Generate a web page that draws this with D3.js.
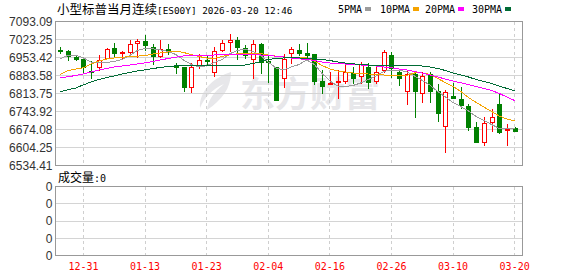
<!DOCTYPE html>
<html>
<head>
<meta charset="utf-8">
<script src="https://cdn.jsdelivr.net/npm/d3@7"></script>
<style>
  body { margin: 0; background: #fff; }
  svg { display: block; }
</style>
</head>
<body>
<div id="chart"></div>
<script>
// trading days shown on the chart
const dates = [
  "12-26", "12-29", "12-30", "12-31", "01-02", "01-05", "01-06", "01-07", "01-08", "01-09",
  "01-12", "01-13", "01-14", "01-15", "01-16", "01-19", "01-20", "01-21", "01-22", "01-23",
  "01-26", "01-27", "01-28", "01-29", "01-30", "02-02", "02-03", "02-04", "02-05", "02-06",
  "02-09", "02-10", "02-11", "02-12", "02-13", "02-16", "02-17", "02-18", "02-19", "02-20",
  "02-23", "02-24", "02-25", "02-26", "02-27", "03-02", "03-03", "03-04", "03-05", "03-06",
  "03-09", "03-10", "03-11", "03-12", "03-13", "03-16", "03-17", "03-18", "03-19", "03-20"
];

const opens = [
  6983, 6980.5, 6957, 6948.5, 6900, 6918.5, 6952, 6991, 6970, 6974,
  7009, 7016.5, 6993.5, 6960, 6987, 6919.5, 6916, 6838, 6925, 6942,
  6896.5, 6983, 7014.5, 7019.5, 6991, 6948.5, 7006.5, 6938, 6916, 6874.5,
  6970, 6983, 6971.5, 6968, 6864, 6851, 6859, 6864, 6892.5, 6883.5,
  6918.5, 6861.5, 6903, 6965, 6896.5, 6822.5, 6890, 6816.5, 6890, 6822.5,
  6689.5, 6803.5, 6793, 6767, 6685.5, 6625, 6702.5, 6774, 6673, 6679
];
const highs = [
  6996, 6983, 6961, 6952, 6939, 6965, 6991, 7009, 6980.5, 7019.5,
  7026, 7039, 7004, 7019.5, 7006.5, 6931, 6918.5, 6931, 6968, 6964,
  6993.5, 7019.5, 7045.5, 7032, 7000, 7019.5, 7010, 6961, 6918.5, 6968,
  6996, 7006.5, 7010.5, 6968, 6903, 6896.5, 6903, 6929, 6916, 6935,
  6931, 6918.5, 6983, 6974, 6905.5, 6903, 6892.5, 6896.5, 6896.5, 6851.5,
  6825.5, 6853.5, 6838, 6773.5, 6702.5, 6722, 6754.5, 6812.5, 6695, 6683
];
const lows = [
  6968, 6939, 6939, 6892.5, 6871, 6900, 6948, 6954.5, 6942, 6957,
  6952, 6980.5, 6925, 6952, 6964, 6890, 6821.5, 6815, 6909.5, 6925,
  6879.5, 6974, 6974, 6942, 6948.5, 6871, 6890, 6853, 6786, 6836,
  6929, 6958, 6948.5, 6845, 6810, 6845, 6790.5, 6851, 6851, 6851,
  6831, 6851, 6894, 6874, 6841, 6770, 6719.5, 6776, 6776, 6704,
  6583.5, 6793, 6754.5, 6670, 6622, 6612, 6663, 6657, 6612, 6668
];
const closes = [
  6978, 6961, 6947, 6916, 6898, 6944.5, 6987, 6970, 6973, 7006.5,
  7016.5, 7000, 6961, 6987, 6978, 6917, 6838, 6918.5, 6944.5, 6938,
  6980.5, 7010.5, 7019.5, 6993.5, 6965, 7004, 6936.5, 6935, 6789, 6948.5,
  6987, 6970, 6962.5, 6864, 6842, 6853, 6864, 6896.5, 6873, 6929,
  6857.5, 6896.5, 6976.5, 6913.5, 6874.5, 6890, 6822.5, 6883.5, 6822.5, 6737.5,
  6819, 6797, 6770, 6683, 6625, 6700, 6724.5, 6663, 6676.5, 6669
];

// moving averages as drawn on the chart
const ma5 = [
  6948.4, 6962.0, 6963.1, 6951.5, 6936.0, 6932.9, 6934.0, 6937.9, 6945.7, 6961.2,
  6980.6, 6988.4, 6987.2, 6983.3, 6976.7, 6965.1, 6943.7, 6926.3, 6916.6, 6921.2,
  6934.0, 6945.7, 6967.8, 6980.6, 6985.6, 6976.7, 6961.2, 6936.0, 6912.7, 6904.9,
  6916.6, 6926.3, 6943.7, 6926.3, 6891.4, 6862.3, 6842.9, 6840.9, 6844.8, 6854.5,
  6868.1, 6881.7, 6899.1, 6904.9, 6904.9, 6897.2, 6881.7, 6864.2, 6846.7, 6821.5,
  6800.2, 6778.8, 6763.3, 6745.9, 6724.5, 6709.0, 6693.5, 6678.0, 6676.0, 6678.0
];
const ma10 = [
  6887.5, 6903.0, 6908.8, 6913.5, 6928.2, 6939.9, 6947.6, 6951.5, 6954.6, 6956.5,
  6958.5, 6961.2, 6967.0, 6970.9, 6974.8, 6978.7, 6972.8, 6965.1, 6957.3, 6951.5,
  6949.6, 6957.3, 6963.9, 6967.8, 6969.0, 6970.9, 6969.0, 6963.1, 6958.5, 6955.4,
  6953.4, 6952.3, 6951.5, 6939.9, 6922.4, 6908.8, 6901.1, 6897.2, 6893.3, 6890.2,
  6889.4, 6887.5, 6885.5, 6883.6, 6881.7, 6883.6, 6893.3, 6893.3, 6887.5, 6872.0,
  6856.4, 6840.9, 6821.5, 6798.2, 6778.8, 6761.4, 6743.9, 6726.5, 6714.8, 6707.8
];
const ma20 = [
  6874.7, 6878.9, 6883.6, 6889.4, 6897.2, 6904.9, 6910.8, 6916.6, 6920.5, 6924.3,
  6928.2, 6932.9, 6937.9, 6943.7, 6949.6, 6954.6, 6959.3, 6961.2, 6961.2, 6962.0,
  6963.1, 6963.9, 6963.9, 6963.9, 6963.9, 6963.9, 6963.1, 6961.2, 6958.5, 6955.4,
  6951.5, 6948.4, 6945.7, 6941.8, 6936.0, 6932.1, 6930.2, 6928.2, 6926.3, 6924.3,
  6922.4, 6920.5, 6916.6, 6913.5, 6908.8, 6904.9, 6899.1, 6893.3, 6885.5, 6877.8,
  6870.0, 6862.3, 6855.3, 6848.7, 6840.9, 6833.2, 6825.4, 6813.8, 6800.2, 6786.6
];
const ma30 = [
  6821.5, 6828.1, 6835.1, 6847.5, 6858.4, 6868.1, 6875.8, 6881.7, 6889.4, 6895.2,
  6901.1, 6905.7, 6910.8, 6914.6, 6918.5, 6921.2, 6922.4, 6923.2, 6923.6, 6924.0,
  6924.3, 6924.3, 6924.3, 6924.3, 6924.3, 6930.2, 6937.9, 6945.7, 6949.6, 6951.5,
  6951.5, 6951.5, 6950.7, 6948.4, 6945.7, 6941.8, 6936.0, 6932.1, 6929.0, 6926.3,
  6924.3, 6924.3, 6924.3, 6924.3, 6922.4, 6922.4, 6922.4, 6920.5, 6916.6, 6910.8,
  6903.0, 6893.3, 6885.5, 6877.8, 6868.1, 6860.3, 6852.6, 6842.9, 6833.2, 6824.2
];

const priceTicks = [7093.09, 7023.25, 6953.42, 6883.58, 6813.75, 6743.92, 6674.08, 6604.25, 6534.41];
const volumeTicks = [0, 1, 2, 3, 4];
const volumeLabels = ["0", "0", "0", "0", "0"];
const dateTicks = ["12-31", "01-13", "01-23", "02-04", "02-16", "02-26", "03-10", "03-20"];

const maNames = ["5PMA", "10PMA", "20PMA", "30PMA"];
const maColors = ["#9c9c9c", "#f5a300", "#ff00ff", "#006b35"];

// layout
const width = 578, height = 276;
const left = 55.5, right = 522.5;
const mainTop = 21.5, mainBottom = 165.5;
const volTop = 186.5, volBottom = 255.5;

const svg = d3
  .select("#chart")
  .append("svg")
  .attr("width", width)
  .attr("height", height);

const x = d3.scaleBand().domain(dates).range([56.5, 518.5]);
const cx = (d) => x(d) + x.bandwidth() / 2;
const y = d3.scaleLinear().domain([6534.41, 7093.09]).range([mainBottom, mainTop]);
const yVol = d3.scaleLinear().domain([0, 4]).range([volBottom, volTop]);

// watermark
const wm = svg.append("g").attr("fill", "#e7e7ea");
wm.append("path")
  .attr("d", "M231,72 C212,78 199,92 200,108 C204,98 212,89 224,84 C214,92 208,100 207,110 C222,100 231,88 231,72 Z");
wm.append("text")
  .attr("x", 240)
  .attr("y", 107)
  .style("font-family", "'Noto Sans CJK SC'")
  .style("font-size", "35px")
  .style("font-weight", "bold")
  .text("东方财富");

// grid lines
const grid = svg.append("g").attr("stroke", "#d4d4d4").attr("shape-rendering", "crispEdges");
grid.selectAll(".hg")
  .data(priceTicks.slice(1, -1))
  .join("line")
  .attr("x1", left).attr("x2", right)
  .attr("y1", (d) => Math.round(y(d) - 0.5) + 0.5)
  .attr("y2", (d) => Math.round(y(d) - 0.5) + 0.5);
grid.selectAll(".vg")
  .data(volumeTicks.slice(1, -1))
  .join("line")
  .attr("x1", left).attr("x2", right)
  .attr("y1", (d) => Math.round(yVol(d) - 0.5) + 0.5)
  .attr("y2", (d) => Math.round(yVol(d) - 0.5) + 0.5);

const dash = svg.append("g")
  .attr("stroke", "#cfcfcf")
  .attr("stroke-dasharray", "3,3")
  .attr("shape-rendering", "crispEdges");
dateTicks.forEach((d) => {
  const px = Math.round(cx(d) - 0.5) + 0.5;
  dash.append("line").attr("x1", px).attr("x2", px).attr("y1", mainTop).attr("y2", mainBottom);
  dash.append("line").attr("x1", px).attr("x2", px).attr("y1", volTop).attr("y2", volBottom);
});

// candles
const candles = dates.map((d, i) => ({
  date: d, open: opens[i], high: highs[i], low: lows[i], close: closes[i]
}));

const cg = svg.append("g").attr("shape-rendering", "crispEdges");
candles.forEach((d) => {
  const up = d.close >= d.open;
  const col = up ? "#ff0000" : "#008000";
  const px = Math.round(cx(d.date));
  cg.append("line")
    .attr("x1", px + 0.5).attr("x2", px + 0.5)
    .attr("y1", y(d.high)).attr("y2", y(d.low))
    .attr("stroke", col);
  const top = Math.round(y(Math.max(d.open, d.close)));
  const bot = Math.round(y(Math.min(d.open, d.close)));
  if (bot - top < 1) {
    cg.append("line")
      .attr("x1", px - 2).attr("x2", px + 3)
      .attr("y1", top + 0.5).attr("y2", top + 0.5)
      .attr("stroke", col);
  } else if (up) {
    cg.append("rect")
      .attr("x", px - 1.5).attr("y", top + 0.5)
      .attr("width", 4).attr("height", bot - top)
      .attr("fill", "#fff").attr("stroke", col);
  } else {
    cg.append("rect")
      .attr("x", px - 2).attr("y", top)
      .attr("width", 5).attr("height", bot - top + 1)
      .attr("fill", col);
  }
});

// moving average lines
const line = d3.line().x((d, i) => cx(dates[i])).y((d) => y(d));
[ma5, ma10, ma20, ma30].forEach((s, k) => {
  svg.append("path")
    .datum(s)
    .attr("fill", "none")
    .attr("stroke", maColors[k])
    .attr("stroke-width", 1)
    .attr("shape-rendering", "crispEdges")
    .attr("d", line);
});

// frames
const frame = svg.append("g").attr("fill", "none").attr("stroke", "#999").attr("shape-rendering", "crispEdges");
frame.append("rect").attr("x", left).attr("y", mainTop).attr("width", right - left).attr("height", mainBottom - mainTop);
frame.append("rect").attr("x", left).attr("y", volTop).attr("width", right - left).attr("height", volBottom - volTop);

// axes
const yAxis = svg.append("g")
  .attr("transform", `translate(${left},0)`)
  .call(d3.axisLeft(y).tickValues(priceTicks).tickSize(0).tickPadding(3).tickFormat(d3.format(".2f")));
const volAxis = svg.append("g")
  .attr("transform", `translate(${left},0)`)
  .call(d3.axisLeft(yVol).tickValues(volumeTicks).tickSize(0).tickPadding(3).tickFormat((d, i) => volumeLabels[i]));
[yAxis, volAxis].forEach((g) => {
  g.select(".domain").remove();
  g.selectAll("text")
    .attr("fill", "#333")
    .style("font-family", "'Liberation Sans', Arial, sans-serif")
    .style("font-size", "12px");
});

const xAxis = svg.append("g")
  .attr("transform", `translate(0,${volBottom})`)
  .call(d3.axisBottom(x).tickValues(dateTicks).tickSize(0).tickPadding(7));
xAxis.select(".domain").remove();
xAxis.selectAll("text")
  .attr("fill", "#ff0000")
  .style("font-family", "'DejaVu Sans Mono', monospace")
  .style("font-size", "10px");

// title
const title = svg.append("text").attr("x", 57).attr("y", 14).attr("fill", "#000");
title.append("tspan").style("font-family", "'Noto Sans CJK SC'").style("font-size", "12.5px").text("小型标普当月连续");
title.append("tspan").style("font-family", "'DejaVu Sans Mono', monospace").style("font-size", "9.4px").text("[ES00Y] 2026-03-20 12:46");

// legend
const legendX = [338, 380, 425, 472];
maNames.forEach((n, k) => {
  const t = svg.append("text")
    .attr("x", legendX[k]).attr("y", 13)
    .style("font-family", "'DejaVu Sans Mono', monospace")
    .style("font-size", "10px")
    .attr("fill", "#000")
    .text(n);
  const w = t.node().getComputedTextLength();
  svg.append("rect")
    .attr("x", Math.round(legendX[k] + w + 3)).attr("y", 7)
    .attr("width", 6).attr("height", 4)
    .attr("fill", maColors[k]);
});

// volume label
const vt = svg.append("text").attr("x", 58).attr("y", 182).attr("fill", "#000");
vt.append("tspan").style("font-family", "'Noto Sans CJK SC'").style("font-size", "12px").text("成交量");
vt.append("tspan").style("font-family", "'DejaVu Sans Mono', monospace").style("font-size", "10px").text(":0");
</script>
</body>
</html>
